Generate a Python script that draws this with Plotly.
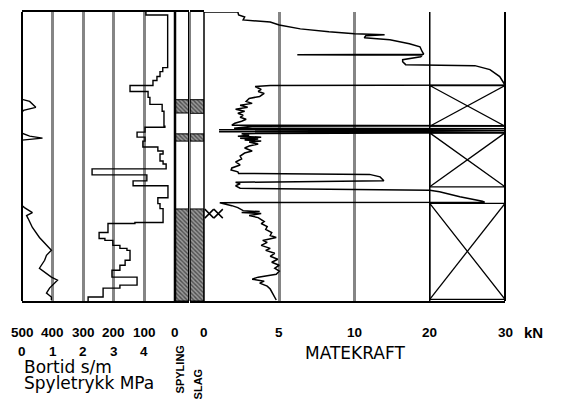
import plotly.graph_objects as go

# ---------------- data (depth in m) ----------------
depth_max = 29.1

# Spyletrykk (flushing pressure), MPa
spy_depth = [0.0, 8.8, 9.0, 9.6, 9.9, 10.1, 12.2, 12.5, 12.7, 12.9, 19.5, 19.7, 20.2, 20.5,
             20.8, 21.7, 22.7, 23.3, 24.0, 24.5, 25.0, 25.8, 26.2, 26.7, 27.0, 27.3, 27.8,
             28.3, 28.7, 29.0]
spy_mpa = [0.0, 0.0, 0.25, 0.45, 0.05, 0.0, 0.0, 0.25, 0.67, 0.0, 0.0, 0.08, 0.34, 0.15,
           0.2, 0.34, 0.57, 0.74, 0.96, 0.8, 0.74, 0.57, 0.74, 0.96, 1.16, 1.06, 0.9,
           0.8, 0.96, 0.96]

# Bortid (penetration time), s/m  -- value valid from each depth down to the next
bor_depth = [0.0, 0.3, 5.6, 6.0, 6.5, 6.9, 7.4, 8.0, 8.6, 9.3, 10.0, 11.5, 11.6, 12.1,
             12.6, 13.0, 13.6, 14.0, 14.3, 15.0, 15.3, 15.8, 16.4, 17.0, 17.5, 18.7, 19.3,
             19.8, 20.5, 21.2, 21.3, 22.2, 22.8, 23.0, 23.5, 23.8, 24.0, 25.0, 25.5, 26.0,
             26.7, 27.5, 27.8, 28.7, 29.1]
bor_sm = [95, 24, 40, 49, 59, 72, 147, 88, 82, 42, 36, 33, 98, 124,
          98, 105, 56, 39, 49, 39, 29, 271, 92, 137, 23, 56, 49,
          39, 39, 131, 219, 248, 229, 203, 180, 157, 147, 163, 180, 206,
          124, 180, 235, 284, 284]

# Matekraft (feed force), kN
mk_depth = [0.0, 0.0, 0.3, 0.5, 0.8, 1.0, 1.3, 1.7, 2.0, 2.2, 2.3, 2.4, 2.6, 2.8, 3.2, 3.5,
            4.0, 4.25, 4.3, 4.35, 4.5, 4.8, 5.0, 5.3, 5.4, 5.8, 6.5, 7.35, 7.4, 7.5, 7.8,
            8.0, 8.2, 8.5, 8.7, 9.0, 9.2, 9.4, 9.6, 9.8, 10.0, 10.2, 10.4, 10.6, 10.8,
            11.0, 11.2, 11.4, 11.45, 11.5, 11.7, 11.75, 11.85, 11.95, 12.05, 12.15, 12.25,
            12.4, 12.5, 12.6, 12.7, 12.8, 12.9, 13.0, 13.1, 13.3, 13.5, 13.7, 14.0, 14.2,
            14.5, 14.8, 15.1, 15.4, 15.7, 15.9, 16.1, 16.25, 16.35, 16.6, 17.0, 17.15,
            17.3, 17.5, 17.75, 17.95, 18.1, 18.6, 19.05, 19.15, 19.2, 19.3, 19.5, 19.7,
            20.0, 20.1, 20.2, 20.3, 20.5, 20.7, 20.9, 21.1, 21.3, 21.6, 21.9, 22.2, 22.5,
            22.7, 23.0, 23.2, 23.5, 23.8, 24.0, 24.3, 24.6, 24.9, 25.2, 25.5, 25.8, 26.1,
            26.4, 26.7, 26.9, 27.1, 27.3, 27.6, 27.9, 28.2, 28.5, 28.8, 29.0]
mk_kn = [0.0, 2.25, 2.3, 2.7, 2.6, 4.4, 5.0, 6.4, 8.3, 10.0, 14.0, 11.5, 11.3, 14.7, 17.3, 18.7,
         19.0, 19.2, 6.2, 19.0, 18.8, 16.4, 16.4, 16.8, 26.0, 28.0, 29.3, 30.0, 4.4, 3.4, 3.8,
         3.6, 4.0, 3.7, 3.0, 2.8, 3.2, 2.4, 2.9, 2.1, 2.7, 2.25, 2.6, 2.4, 2.8,
         2.5, 2.05, 1.85, 30.0, 3.2, 2.0, 30.0, 1.0, 30.0, 1.0, 30.0, 2.5,
         3.0, 2.25, 3.8, 2.4, 3.6, 2.7, 3.8, 3.0, 3.6, 3.0, 2.7, 3.2, 2.7,
         2.4, 2.5, 2.1, 2.4, 1.85, 1.8, 2.25, 2.3, 12.0, 13.4, 13.9, 2.1,
         2.4, 2.1, 2.4, 20.0, 21.3, 24.0, 27.0, 27.3, 1.05, 1.4, 1.85, 2.25,
         2.6, 3.7, 2.5, 3.8, 3.0, 3.6, 3.8, 4.0, 3.8, 4.2, 4.1, 4.5, 4.4,
         4.8, 3.9, 4.2, 3.8, 4.4, 4.1, 4.7, 4.4, 4.9, 4.5, 5.0, 4.7, 5.0,
         4.8, 3.6, 3.2, 4.0, 3.7, 4.2, 4.4, 4.5, 4.6, 4.7, 4.8]

# Spyling / Slag intervals (hatched)
spyling_top = [8.83, 12.27, 19.83]
spyling_bot = [10.17, 13.0, 29.1]
slag_top = [8.83, 12.27, 19.83]
slag_bot = [10.2, 13.0, 29.1]

# Crossed boxes in the 20-30 kN column
box_top = [7.4, 12.17, 19.27]
box_bot = [11.5, 17.6, 28.93]

# small cross marks next to the slag column
mark_depth = [20.3, 20.3]
mark_kn = [0.35, 0.95]

# tick labels
bortid_ticks = [500, 400, 300, 200, 100, 0]
spyle_ticks = [0, 1, 2, 3, 4]
kn_ticks = [0, 5, 10, 20, 30]


def kn_axis(f):
    """Matekraft scale: linear 0-10 kN, half scale 10-30 kN."""
    return f if f <= 10 else 10 + (f - 10) / 2.0


NUMFONT = "Liberation Sans, Arial, sans-serif"
TXTFONT = "DejaVu Sans, Verdana, sans-serif"

fig = go.Figure()

# hatched intervals
for top, bot, xa in [(spyling_top, spyling_bot, "x3"), (slag_top, slag_bot, "x4")]:
    fig.add_trace(go.Bar(
        x=[0.5] * len(top), y=[b - t for t, b in zip(top, bot)], base=top, width=1.0,
        xaxis=xa, yaxis="y",
        marker=dict(color="white", line=dict(color="black", width=1),
                    pattern=dict(shape="\\", fgcolor="black", bgcolor="#9a9a9a",
                                 size=3, solidity=0.45)),
        hoverinfo="skip"))

# Spyletrykk
fig.add_trace(go.Scatter(x=spy_mpa, y=spy_depth, mode="lines", xaxis="x", yaxis="y",
                         line=dict(color="black", width=1.4)))

# Bortid as explicit steps
step_x, step_y = [], []
for i in range(len(bor_depth) - 1):
    step_x += [bor_sm[i], bor_sm[i]]
    step_y += [bor_depth[i], bor_depth[i + 1]]
fig.add_trace(go.Scatter(x=step_x, y=step_y, mode="lines", xaxis="x2", yaxis="y",
                         line=dict(color="black", width=1.4)))

# Matekraft
fig.add_trace(go.Scatter(x=[kn_axis(v) for v in mk_kn], y=mk_depth, mode="lines",
                         xaxis="x5", yaxis="y", line=dict(color="black", width=1.5)))

# crossed boxes
bx, by = [], []
x20, x30 = kn_axis(20), kn_axis(30)
for t, b in zip(box_top, box_bot):
    bx += [x20, x30, x30, x20, x20, x30, None, x20, x30, None]
    by += [t, t, b, b, t, b, None, b, t, None]
fig.add_trace(go.Scatter(x=bx, y=by, mode="lines", xaxis="x5", yaxis="y",
                         line=dict(color="black", width=1.3)))

# small cross marks
fig.add_trace(go.Scatter(x=[kn_axis(v) for v in mark_kn], y=mark_depth, mode="markers",
                         xaxis="x5", yaxis="y",
                         marker=dict(symbol="x-thin", size=9, line=dict(color="black", width=1.5))))

d1 = (175 - 22) / 483
d3a, d3b = (175 - 22) / 483, (188.5 - 22) / 483
d4a, d4b = (190 - 22) / 483, (204 - 22) / 483

fig.update_layout(
    width=561, height=399,
    margin=dict(l=22, r=56, t=10, b=98, pad=0),
    paper_bgcolor="white", plot_bgcolor="white",
    showlegend=False, barmode="overlay",
    xaxis=dict(domain=[0, d1], range=[0, 5], tickmode="linear", dtick=1,
               showgrid=True, gridcolor="#858585", gridwidth=2.5, zeroline=False,
               showticklabels=False, ticks="", showline=True, mirror=True,
               linecolor="black", linewidth=2),
    xaxis2=dict(overlaying="x", range=[500, 0], visible=False, showgrid=False),
    xaxis3=dict(domain=[d3a, d3b], range=[0, 1], showgrid=False, zeroline=False,
                showticklabels=False, ticks="", showline=True, mirror=True,
                linecolor="black", linewidth=2),
    xaxis4=dict(domain=[d4a, d4b], range=[0, 1], showgrid=False, zeroline=False,
                showticklabels=False, ticks="", showline=True, mirror=True,
                linecolor="black", linewidth=2),
    xaxis5=dict(domain=[d4b, 1], range=[0, 20],
                tickvals=[kn_axis(v) for v in kn_ticks[1:3]],
                showgrid=True, gridcolor="#858585", gridwidth=2.5, zeroline=False,
                showticklabels=False, ticks="", showline=True, mirror=False,
                linecolor="black", linewidth=2),
    yaxis=dict(range=[depth_max, 0], visible=False, showgrid=False, zeroline=False),
)

# frame lines
line_specs = [("x domain", 0, 2), ("x domain", 1, 2.5), ("x3 domain", 1, 1),
              ("x4 domain", 0, 1), ("x4 domain", 1, 1.5), ("x5 domain", 1, 2)]
for xr, xv, w in line_specs:
    fig.add_shape(type="line", xref=xr, yref="paper", x0=xv, x1=xv, y0=0, y1=1,
                  line=dict(color="black", width=w))
fig.add_shape(type="line", xref="x5", yref="paper", x0=kn_axis(20), x1=kn_axis(20),
              y0=0, y1=1, line=dict(color="black", width=1.5))

numfont = dict(family=NUMFONT, size=13.5, color="black", weight="bold")
# tick label annotations
for v in bortid_ticks:
    fig.add_annotation(x=v, xref="x2", y=0, yref="paper", yshift=-31, yanchor="middle",
                       text=str(v), showarrow=False, font=numfont)
for v in spyle_ticks:
    fig.add_annotation(x=v, xref="x", y=0, yref="paper", yshift=-50, yanchor="middle",
                       text=str(v), showarrow=False, font=numfont)
for v in kn_ticks:
    fig.add_annotation(x=kn_axis(v), xref="x5", y=0, yref="paper", yshift=-31,
                       yanchor="middle", text=str(v), showarrow=False, font=numfont)
fig.add_annotation(x=(545 - 22) / 483, xref="paper", y=0, yref="paper", yshift=-31,
                   yanchor="middle", text="kN", showarrow=False,
                   font=dict(family=NUMFONT, size=15, color="black", weight="bold"))
fig.add_annotation(x=kn_axis(10), xref="x5", y=0, yref="paper", yshift=-52,
                   yanchor="middle", text="MATEKRAFT", showarrow=False,
                   font=dict(family=TXTFONT, size=17, color="black"))
fig.add_annotation(x=0, xref="x", y=0, yref="paper", yshift=-66, xanchor="left",
                   yanchor="middle", text="Bortid s/m", showarrow=False,
                   font=dict(family=TXTFONT, size=17, color="black"))
fig.add_annotation(x=0, xref="x", y=0, yref="paper", yshift=-82, xanchor="left",
                   yanchor="middle", text="Spyletrykk MPa", showarrow=False,
                   font=dict(family=TXTFONT, size=17, color="black"))
fig.add_annotation(x=0.4, xref="x3", y=0, yref="paper", yshift=-68, yanchor="middle",
                   text="SPYLING", textangle=-90, showarrow=False,
                   font=dict(family=NUMFONT, size=11, color="black", weight="bold"))
fig.add_annotation(x=0.6, xref="x4", y=0, yref="paper", yshift=-83, yanchor="middle",
                   text="SLAG", textangle=-90, showarrow=False,
                   font=dict(family=NUMFONT, size=11, color="black", weight="bold"))

fig.write_html("out.html", post_script="document.body.style.margin='0px';",
               config={"displayModeBar": False})
